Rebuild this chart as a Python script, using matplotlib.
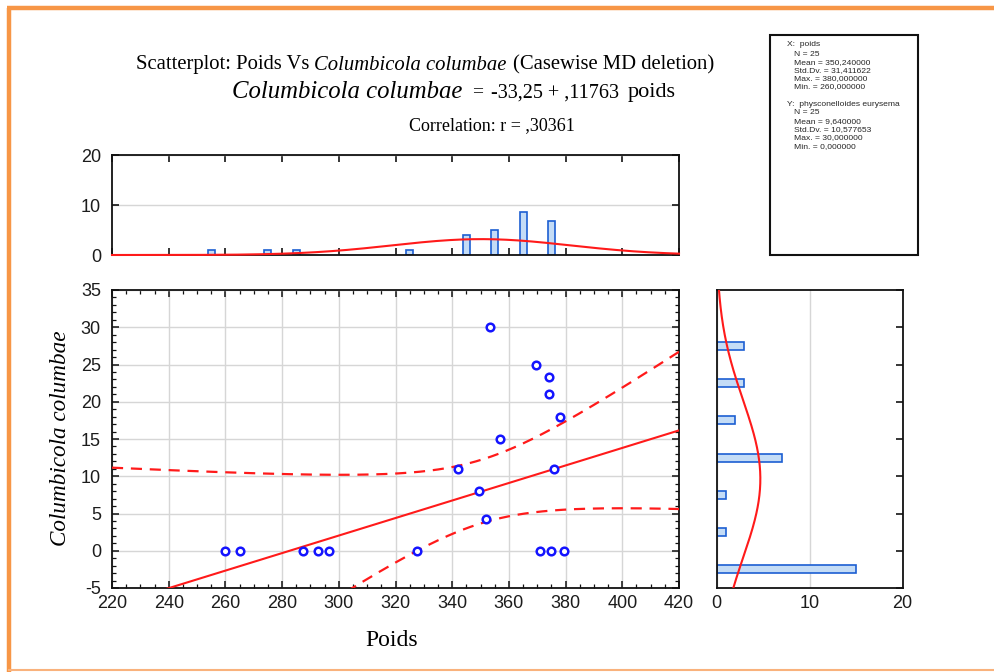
import numpy as np
import matplotlib
matplotlib.use("Agg")
import matplotlib.pyplot as plt
from matplotlib.ticker import MultipleLocator
from matplotlib.lines import Line2D
from matplotlib.patches import Rectangle

plt.rcParams["axes.unicode_minus"] = False

# ---- data ---------------------------------------------------------------
poids = [260, 265, 287.5, 292.5, 296.5, 327.5, 342, 349.5, 352, 353.5,
         357, 369.5, 371, 374, 374, 375, 376, 378, 379.5]
columbicola = [0, 0, 0, 0, 0, 0, 11, 8, 4.3, 30,
               15, 25, 0, 23.3, 21, 0, 11, 18, 0]

# marginal histogram of Poids (bin centres, counts)
hist_x_centers = [255, 275, 285, 325, 345, 355, 365, 375]
hist_x_counts = [1, 1, 1, 1, 4, 5, 8.6, 6.9]

# marginal histogram of Columbicola columbae (bin centres, counts)
hist_y_centers = [-2.5, 2.5, 7.5, 12.5, 17.5, 22.5, 27.5]
hist_y_counts = [15, 1, 1, 7, 2, 3, 3]

# regression and descriptive statistics
intercept = -33.25
slope = 0.11763
r_corr = 0.30361
n_obs = 25
x_mean, x_sd, x_max, x_min = 350.24, 31.411622, 380.0, 260.0
y_mean, y_sd, y_max, y_min = 9.64, 10.577653, 30.0, 0.0
t_975 = 2.069  # Student t, 23 df

# ---- figure -------------------------------------------------------------
W, H = 994, 672
fig = plt.figure(figsize=(W / 100, H / 100), dpi=100)
fig.patch.set_facecolor("white")

SANS = "Liberation Sans"
SERIF = "Liberation Serif"
TICK_COLOR = "#1c1c1c"
GRID = "#d6d6d6"
BAR_FACE = "#c4dcf6"
BAR_EDGE = "#1c5fd2"


def px_axes(l, t, r, b):
    return fig.add_axes([l / W, 1 - b / H, (r - l) / W, (b - t) / H])


def style_ticks(ax):
    for lab in ax.get_xticklabels() + ax.get_yticklabels():
        lab.set_fontfamily(SANS)
        lab.set_fontsize(13)
        lab.set_color(TICK_COLOR)
    for sp in ax.spines.values():
        sp.set_linewidth(1.3)
        sp.set_color("#111111")


# main scatter
ax = px_axes(112, 290, 679, 588)
ax.set_xlim(220, 420)
ax.set_ylim(-5, 35)
ax.xaxis.set_major_locator(MultipleLocator(20))
ax.xaxis.set_minor_locator(MultipleLocator(5))
ax.yaxis.set_major_locator(MultipleLocator(5))
ax.yaxis.set_minor_locator(MultipleLocator(1))
ax.grid(True, which="major", color=GRID, lw=1.0)
ax.set_axisbelow(True)
ax.tick_params(which="both", direction="in", top=True, right=True, color="#111111")
ax.tick_params(which="major", length=5, width=1.1, pad=5)
ax.tick_params(which="minor", length=3, width=0.9)
ax.tick_params(axis="y", pad=8)

xs = np.linspace(220, 420, 300)
y_fit = intercept + slope * xs
s_res = y_sd * np.sqrt((1 - r_corr ** 2) * (n_obs - 1) / (n_obs - 2))
sxx = (n_obs - 1) * x_sd ** 2
half = t_975 * s_res * np.sqrt(1 / n_obs + (xs - x_mean) ** 2 / sxx)
ax.plot(xs, y_fit, color="#ff1a1a", lw=1.5, zorder=3)
ax.plot(xs, y_fit + half, color="#ff1a1a", lw=1.6, ls=(0, (5, 3.5)), zorder=3)
ax.plot(xs, y_fit - half, color="#ff1a1a", lw=1.6, ls=(0, (5, 3.5)), zorder=3)
ax.scatter(poids, columbicola, s=30, facecolors="white", edgecolors="#1414ff",
           linewidths=1.8, zorder=4)
style_ticks(ax)

# top histogram
axt = px_axes(112, 155, 679, 255)
axt.set_xlim(220, 420)
axt.set_ylim(0, 20)
axt.xaxis.set_major_locator(MultipleLocator(20))
axt.set_yticks([0, 10, 20])
axt.tick_params(axis="x", which="both", direction="in", top=True, bottom=True,
                labelbottom=False, length=5, width=1.1)
axt.tick_params(axis="y", direction="in", right=True, length=5, width=1.1, pad=8)
axt.grid(True, axis="y", color=GRID, lw=1.0)
axt.set_axisbelow(True)
axt.bar(hist_x_centers, hist_x_counts, width=2.5, color=BAR_FACE,
        edgecolor=BAR_EDGE, lw=1.2, zorder=2)
gx = np.linspace(220, 420, 300)
axt.plot(gx, n_obs * 10 * np.exp(-0.5 * ((gx - x_mean) / x_sd) ** 2)
         / (x_sd * np.sqrt(2 * np.pi)), color="#ff1a1a", lw=1.5, zorder=3,
         clip_on=False)
style_ticks(axt)

# right histogram
axr = px_axes(716.5, 290, 902.5, 588)
axr.set_xlim(0, 20)
axr.set_ylim(-5, 35)
axr.set_xticks([0, 10, 20])
axr.yaxis.set_major_locator(MultipleLocator(5))
axr.tick_params(axis="y", direction="in", left=False, right=True,
                labelleft=False, length=5, width=1.1)
axr.tick_params(axis="x", direction="in", bottom=False, pad=5)
axr.grid(True, axis="x", color=GRID, lw=1.0)
axr.set_axisbelow(True)
axr.barh(hist_y_centers, hist_y_counts, height=1.05, color=BAR_FACE,
         edgecolor=BAR_EDGE, lw=1.2, zorder=2)
gy = np.linspace(-5, 35, 300)
axr.plot(n_obs * 5 * np.exp(-0.5 * ((gy - y_mean) / y_sd) ** 2)
         / (y_sd * np.sqrt(2 * np.pi)), gy, color="#ff1a1a", lw=1.5, zorder=3)
style_ticks(axr)

# ---- titles and labels --------------------------------------------------
renderer = fig.canvas.get_renderer()


def put(x_px, y_px, s, **kw):
    t = fig.text(x_px / W, 1 - y_px / H, s, va="center", ha="left", **kw)
    return t.get_window_extent(renderer=renderer).width


x = 136
x += put(x, 65, "Scatterplot: Poids Vs", family=SERIF, size=14.9) + 5
x += put(x, 65, "Columbicola columbae", family=SERIF, style="italic", size=14.9) + 6
put(x, 65, "(Casewise MD deletion)", family=SERIF, size=14.9)

x = 232
x += put(x, 92, "Columbicola columbae", family=SERIF, style="italic", size=17.8) + 10
x += put(x, 92, "=", family=SERIF, size=14) + 8
x += put(x, 93, "-33,25 + ,11763", family=SERIF, size=14.5) + 8
put(x, 92, "poids", family=SERIF, size=16)

put(409, 126, "Correlation: r = ,30361", family=SERIF, size=13)

fig.text(392 / W, 1 - 641 / H, "Poids", family=SERIF, size=17,
         ha="center", va="center")
fig.text(60 / W, 1 - 438 / H, "Columbicola columbae", family=SERIF,
         style="italic", size=16.7, rotation=90, ha="center", va="center")

# statistics box
fig.add_artist(Rectangle((770 / W, 1 - 255 / H), 148 / W, 220 / H,
                         transform=fig.transFigure, fill=False,
                         lw=1.5, edgecolor="#111111"))
stats_lines = [
    (787, 45, "X:  poids"),
    (794, 54, "N = 25"),
    (794, 62.5, "Mean = 350,240000"),
    (794, 71, "Std.Dv. = 31,411622"),
    (794, 79, "Max. = 380,000000"),
    (794, 87, "Min. = 260,000000"),
    (787, 105, "Y:  physconelloides eurysema"),
    (794, 113, "N = 25"),
    (794, 121.5, "Mean = 9,640000"),
    (794, 130, "Std.Dv. = 10,577653"),
    (794, 138, "Max. = 30,000000"),
    (794, 146.5, "Min. = 0,000000"),
]
for sx, sy, s in stats_lines:
    fig.text(sx / W, 1 - sy / H, s, family=SANS, size=6.1, color="#262626",
             ha="left", va="center")

# orange page frame
ORANGE = "#f79646"
fig.add_artist(Line2D([9 / W, 9 / W], [1 - 8 / H, 0], transform=fig.transFigure,
                      color=ORANGE, lw=3.2, solid_capstyle="butt"))
fig.add_artist(Line2D([7.4 / W, 1], [1 - 8 / H, 1 - 8 / H], transform=fig.transFigure,
                      color=ORANGE, lw=3.2, solid_capstyle="butt"))
fig.add_artist(Line2D([9 / W, 1], [1 - 669.5 / H, 1 - 669.5 / H],
                      transform=fig.transFigure, color="#f9b27c", lw=1.5))

fig.savefig("out.png", dpi=100, facecolor="white")
